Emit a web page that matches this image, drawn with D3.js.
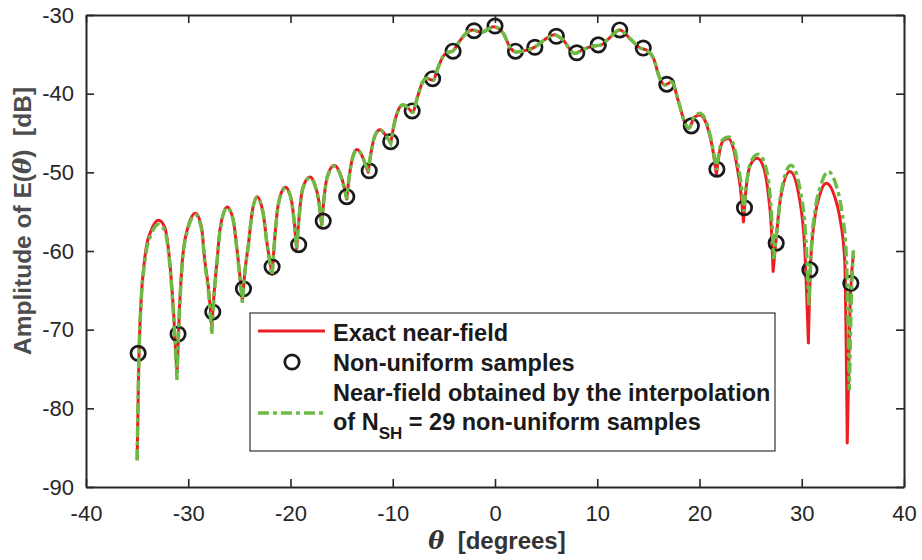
<!DOCTYPE html>
<html>
<head>
<meta charset="utf-8">
<script src="https://cdn.jsdelivr.net/npm/d3@7/dist/d3.min.js"></script>
<style>
  html, body { margin: 0; padding: 0; background: #fff; }
  svg { display: block; font-family: "Liberation Sans", Arial, Helvetica, sans-serif; }
</style>
</head>
<body>
<svg id="chart" width="922" height="560"></svg>
<script>
// ---------------- data ----------------
const xTicks = [-40, -30, -20, -10, 0, 10, 20, 30, 40];
const yTicks = [-90, -80, -70, -60, -50, -40, -30];

// Exact near-field (red solid)
const exactTheta = [-35.0,-34.85,-34.6,-34.35,-34.1,-33.6,-33.3,-32.9,-32.3,-31.8,-31.45,-31.1,
 -30.85,-30.6,-30.1,-29.3,-28.7,-28.4,-28.0,-27.7,
 -27.45,-27.2,-26.9,-26.2,-25.6,-25.3,-25.0,-24.7,
 -24.45,-24.1,-23.8,-23.3,-22.7,-22.3,-21.8,
 -21.55,-21.3,-20.9,-20.5,-20.0,-19.7,-19.4,
 -19.15,-18.8,-18.1,-17.6,-17.25,-16.95,
 -16.7,-16.35,-15.7,-15.2,-14.8,-14.5,
 -14.25,-13.9,-13.5,-13.0,-12.7,-12.4,
 -12.1,-11.7,-11.25,-10.8,-10.2,
 -9.7,-9.0,-8.5,-8.05,-7.6,-7.1,-6.7,-6.05,-5.6,-5.1,
 -4.7,-4.15,-3.5,-2.8,-2.2,-1.3,-0.15,0.8,1.5,2.1,
 3.0,3.8,5.0,5.8,6.6,7.8,8.6,9.4,10.4,11.2,
 12.2,13.2,14.2,14.8,15.5,16.1,16.6,17.3,17.9,18.6,
 18.95,19.5,20.05,20.6,21.0,21.35,21.65,
 21.95,22.3,22.8,23.3,23.7,24.0,24.3,
 24.6,25.0,25.65,26.3,26.75,27.0,27.2,
 27.55,27.9,28.85,29.8,30.3,30.65,
 30.85,31.3,31.8,32.4,33.2,33.7,34.2,34.45,
 34.7,35.05];
const exactDb = [-86.6,-75.0,-66.0,-62.0,-59.5,-57.3,-56.5,-56.1,-57.0,-61.5,-67.5,-75.5,
 -67.0,-61.6,-57.3,-55.2,-57.0,-61.0,-65.0,-69.5,
 -65.0,-61.5,-57.3,-54.4,-56.0,-59.0,-62.5,-66.4,
 -62.5,-59.0,-55.5,-53.1,-55.0,-59.0,-63.0,
 -58.5,-55.0,-52.6,-51.9,-53.0,-55.5,-59.7,
 -55.5,-52.0,-50.6,-51.6,-53.5,-56.7,
 -53.0,-50.3,-49.1,-50.0,-51.6,-53.4,
 -50.5,-48.0,-47.1,-47.9,-48.9,-50.0,
 -47.3,-45.2,-44.6,-45.1,-46.3,
 -43.0,-41.4,-41.8,-42.4,-40.5,-38.6,-38.05,-38.3,-36.8,-35.3,
 -34.8,-34.6,-33.4,-32.3,-31.9,-32.2,-31.5,-32.3,-34.2,-34.7,
 -34.5,-34.15,-33.0,-32.5,-33.1,-34.9,-34.4,-34.0,-33.8,-32.9,
 -31.9,-33.0,-34.2,-34.45,-35.5,-38.0,-38.9,-38.5,-40.8,-43.8,
 -44.4,-43.0,-42.7,-43.6,-45.3,-47.5,-50.3,
 -47.5,-46.0,-45.7,-46.9,-49.5,-52.0,-56.3,
 -51.5,-49.0,-48.2,-49.5,-53.0,-56.5,-62.6,
 -57.7,-53.5,-49.9,-53.5,-59.9,-71.7,
 -62.0,-55.6,-52.7,-51.4,-53.0,-55.6,-61.1,-84.4,
 -68.0,-60.5];

// Interpolated near-field (green dash-dot)
const interpTheta = [-35.0,-34.85,-34.6,-34.35,-34.1,-33.6,-33.3,-32.9,-32.3,-31.8,-31.45,-31.1,
 -30.85,-30.6,-30.1,-29.3,-28.7,-28.4,-28.0,-27.7,
 -27.45,-27.2,-26.9,-26.2,-25.6,-25.3,-25.0,-24.7,
 -24.45,-24.1,-23.8,-23.3,-22.7,-22.3,-21.8,
 -21.55,-21.3,-20.9,-20.5,-20.0,-19.7,-19.4,
 -19.15,-18.8,-18.1,-17.6,-17.25,-16.95,
 -16.7,-16.35,-15.7,-15.2,-14.8,-14.5,
 -14.25,-13.9,-13.5,-13.0,-12.7,-12.4,
 -12.1,-11.7,-11.25,-10.8,-10.2,
 -9.7,-9.0,-8.5,-8.05,-7.6,-7.1,-6.7,-6.05,-5.6,-5.1,
 -4.7,-4.15,-3.5,-2.8,-2.2,-1.3,-0.15,0.8,1.5,2.1,
 3.0,3.8,5.0,5.8,6.6,7.8,8.6,9.4,10.4,11.2,
 12.2,13.2,14.2,14.8,15.5,16.1,16.6,17.3,17.9,18.6,
 18.95,19.5,20.05,20.6,21.0,21.35,21.65,
 21.95,22.3,22.85,23.35,23.75,24.05,24.35,
 24.65,25.05,25.75,26.4,26.85,27.05,27.25,
 27.6,27.95,28.95,29.9,30.4,30.7,
 30.9,31.35,31.9,32.6,33.4,33.9,34.35,34.65,
 34.85,35.05];
const interpDb = [-86.6,-75.0,-66.2,-62.4,-60.0,-57.8,-57.0,-56.6,-57.4,-61.8,-68.0,-76.4,
 -67.4,-61.8,-57.5,-55.4,-57.2,-61.3,-65.5,-70.6,
 -65.3,-61.7,-57.5,-54.5,-56.1,-59.2,-62.8,-66.6,
 -62.6,-59.1,-55.6,-53.2,-55.1,-59.1,-63.1,
 -58.6,-55.1,-52.7,-52.0,-53.1,-55.6,-59.8,
 -55.6,-52.1,-50.7,-51.7,-53.6,-56.8,
 -53.1,-50.4,-49.2,-50.1,-51.7,-53.4,
 -50.5,-48.0,-47.2,-47.9,-48.9,-50.0,
 -47.3,-45.2,-44.6,-45.1,-46.3,
 -43.0,-41.4,-41.8,-42.4,-40.5,-38.6,-38.05,-38.3,-36.8,-35.3,
 -34.8,-34.6,-33.4,-32.3,-31.9,-32.2,-31.5,-32.3,-34.2,-34.7,
 -34.5,-34.15,-33.0,-32.5,-33.1,-34.9,-34.4,-34.0,-33.8,-32.9,
 -31.9,-33.0,-34.2,-34.45,-35.5,-38.0,-38.9,-38.5,-40.8,-43.8,
 -44.4,-42.9,-42.5,-43.4,-45.1,-47.3,-49.7,
 -47.2,-45.8,-45.5,-46.6,-49.0,-51.3,-55.0,
 -51.0,-48.6,-47.7,-49.0,-52.3,-55.5,-61.0,
 -57.0,-52.8,-49.1,-52.7,-58.5,-67.1,
 -60.5,-54.5,-51.5,-49.9,-51.8,-54.8,-60.5,-77.7,
 -66.0,-59.9];

// Non-uniform samples (black circles)
const sampleTheta = [-34.9,-31.0,-27.6,-24.6,-21.8,-19.2,-16.8,-14.5,-12.3,-10.2,
 -8.1,-6.1,-4.1,-2.05,0.0,2.0,3.9,6.0,8.0,10.1,
 12.2,14.5,16.8,19.2,21.7,24.4,27.5,30.8,34.8];
const sampleDb = [-73.0,-70.55,-67.75,-64.8,-62.0,-59.2,-56.2,-53.1,-49.8,-46.1,
 -42.2,-38.1,-34.6,-32.0,-31.4,-34.6,-34.1,-32.7,-34.8,-33.8,
 -31.9,-34.2,-38.8,-44.1,-49.6,-54.5,-59.0,-62.4,-64.1];

const legendLabels = ["Exact near-field", "Non-uniform samples",
  "Near-field obtained by the interpolation", "of N", "SH", " = 29 non-uniform samples"];

// ---------------- layout ----------------
const W = 922, H = 560;
const plot = { left: 86, right: 904, top: 15, bottom: 487 };
const axisColor = "#262626";
const redColor = "#ed1c24";
const greenColor = "#6dbb45";

const svg = d3.select("#chart");
const x = d3.scaleLinear().domain([-40, 40]).range([plot.left, plot.right]);
const y = d3.scaleLinear().domain([-90, -30]).range([plot.bottom, plot.top]);

// Build a path that keeps the deep nulls as cusps: split at sharp local minima,
// smooth each lobe with a monotone curve.
function cuspPath(ts, vs) {
  const pts = ts.map((t, i) => [x(t), y(vs[i])]);
  const n = pts.length;
  const br = [0];
  for (let i = 1; i < n - 1; i++) {
    if (vs[i] < vs[i - 1] - 1.0 && vs[i] < vs[i + 1] - 1.0) br.push(i);
  }
  br.push(n - 1);
  const gen = d3.line().curve(d3.curveMonotoneX);
  let d = "";
  for (let k = 0; k < br.length - 1; k++) {
    let s = gen(pts.slice(br[k], br[k + 1] + 1));
    if (k > 0) s = "L" + s.slice(1);
    d += s;
  }
  return d;
}

svg.append("clipPath").attr("id", "clip")
  .append("rect").attr("x", plot.left).attr("y", plot.top)
  .attr("width", plot.right - plot.left).attr("height", plot.bottom - plot.top);

const g = svg.append("g").attr("clip-path", "url(#clip)");

// red exact
g.append("path")
  .attr("d", cuspPath(exactTheta, exactDb))
  .attr("fill", "none").attr("stroke", redColor)
  .attr("stroke-width", 3).attr("stroke-linejoin", "round");

// samples
g.selectAll("circle.s").data(sampleTheta).join("circle")
  .attr("class", "s")
  .attr("cx", d => x(d)).attr("cy", (d, i) => y(sampleDb[i]))
  .attr("r", 7.2).attr("fill", "none").attr("stroke", "#1a1a1a").attr("stroke-width", 2.7);

// green interpolated
g.append("path")
  .attr("d", cuspPath(interpTheta, interpDb))
  .attr("fill", "none").attr("stroke", greenColor)
  .attr("stroke-width", 3.5).attr("stroke-dasharray", "11,4,4,4");

// ---------------- axes ----------------
function styleAxis(sel) {
  sel.attr("font-family", null).attr("font-size", null);
  sel.selectAll("path.domain").attr("stroke", axisColor).attr("stroke-width", 2);
  sel.selectAll(".tick line").attr("stroke", axisColor).attr("stroke-width", 1.6);
  sel.selectAll(".tick text").attr("fill", axisColor)
    .style("font-size", "22px").style("font-family", "'Liberation Sans', Arial, sans-serif");
}

const fmt = d => String(d).replace("\u2212", "-");

svg.append("g").attr("transform", `translate(0,${plot.bottom})`)
  .call(d3.axisBottom(x).tickValues(xTicks).tickFormat(fmt).tickSizeInner(-8).tickSizeOuter(0).tickPadding(18))
  .call(styleAxis);
svg.append("g").attr("transform", `translate(0,${plot.top})`)
  .call(d3.axisTop(x).tickValues(xTicks).tickFormat("").tickSizeInner(-8).tickSizeOuter(0))
  .call(styleAxis);
svg.append("g").attr("transform", `translate(${plot.left},0)`)
  .call(d3.axisLeft(y).tickValues(yTicks).tickFormat(fmt).tickSizeInner(-8).tickSizeOuter(0).tickPadding(12))
  .call(styleAxis);
svg.append("g").attr("transform", `translate(${plot.right},0)`)
  .call(d3.axisRight(y).tickValues(yTicks).tickFormat("").tickSizeInner(-8).tickSizeOuter(0))
  .call(styleAxis);

// ---------------- axis labels ----------------
const xl = svg.append("text")
  .attr("x", (plot.left + plot.right) / 2 + 2).attr("y", 549)
  .attr("text-anchor", "middle").attr("fill", "#333")
  .style("font-size", "24px").style("font-weight", "bold");
xl.append("tspan").attr("font-family", "'DejaVu Serif', 'Liberation Serif', serif")
  .style("font-style", "italic").text("\u03B8");
xl.append("tspan").text("\u00A0 [degrees]");

const yl = svg.append("text")
  .attr("transform", `translate(31,${221}) rotate(-90)`)
  .attr("text-anchor", "middle").attr("fill", "#4d4d4d")
  .style("font-size", "24.5px").style("font-weight", "bold");
yl.append("tspan").text("Amplitude of E(");
yl.append("tspan").attr("font-family", "'DejaVu Serif', 'Liberation Serif', serif")
  .style("font-style", "italic").text("\u03B8");
yl.append("tspan").text(")\u00A0 [dB]");

// ---------------- legend ----------------
const lg = svg.append("g");
lg.append("rect").attr("x", 250).attr("y", 313).attr("width", 525).attr("height", 138)
  .attr("fill", "#fff").attr("stroke", "#333").attr("stroke-width", 1.2);
lg.append("line").attr("x1", 258).attr("x2", 325).attr("y1", 331).attr("y2", 331)
  .attr("stroke", redColor).attr("stroke-width", 3);
lg.append("circle").attr("cx", 292).attr("cy", 362).attr("r", 7.2)
  .attr("fill", "none").attr("stroke", "#1a1a1a").attr("stroke-width", 2.7);
lg.append("line").attr("x1", 258).attr("x2", 325).attr("y1", 413).attr("y2", 413)
  .attr("stroke", greenColor).attr("stroke-width", 3.5).attr("stroke-dasharray", "11,4,4,4");

const lt = (yy) => lg.append("text").attr("x", 333).attr("y", yy).attr("fill", "#1a1a1a")
  .style("font-size", "23.5px").style("font-weight", "bold");
lt(341).text(legendLabels[0]);
lt(371).text(legendLabels[1]);
lt(401).text(legendLabels[2]);
const l4 = lt(430);
l4.append("tspan").text(legendLabels[3]);
l4.append("tspan").attr("dy", 9).style("font-size", "17px").text(legendLabels[4]);
l4.append("tspan").attr("dy", -9).text(legendLabels[5]);
</script>
</body>
</html>
